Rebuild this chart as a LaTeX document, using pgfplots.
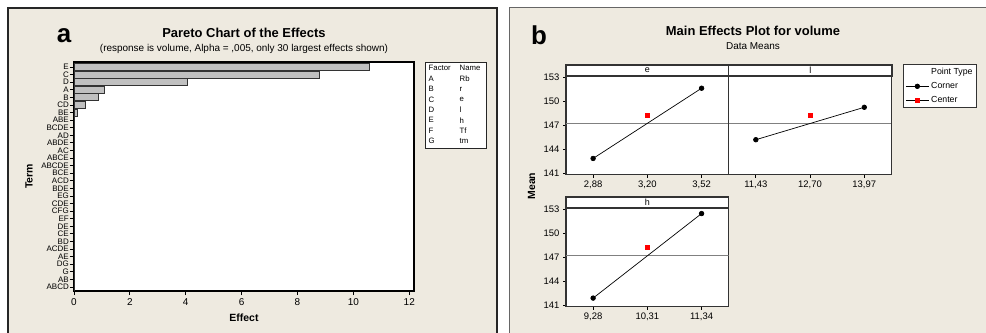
\documentclass[border=0pt]{standalone}
\usepackage{pgfplots}
\pgfplotsset{compat=1.18}
\usepackage{fontspec}
\setmainfont{Liberation Sans}
\definecolor{bg}{RGB}{238,234,224}
\definecolor{barc}{RGB}{192,192,192}
\newcommand{\fs}[1]{\fontsize{#1}{#1}\selectfont}
\begin{document}
\begin{tikzpicture}
\begin{scope}[x=1bp,y=-1bp]
\fill[white] (0,0) rectangle (986,333);
% panel a background
\fill[bg] (8,8) rectangle (497,333);
\draw[line width=1.5bp, black!85] (8,340) -- (8,8) -- (497,8) -- (497,340);
% panel b background
\fill[bg] (509.5,7.5) rectangle (986,333);
\draw[line width=1.5bp, black!60] (509.5,340) -- (509.5,7.5) -- (990,7.5);
% titles panel a
\node[font=\bfseries\fs{26}] at (64,36) {a};
\node[font=\bfseries\fs{13}] at (244,33) {Pareto Chart of the Effects};
\node[font=\fs{10}] at (244,49) {(response is volume, Alpha = ,005, only 30 largest effects shown)};
% titles panel b
\node[font=\bfseries\fs{26}] at (539,35) {b};
\node[font=\bfseries\fs{13}] at (753,31) {Main Effects Plot for volume};
\node[font=\fs{10}] at (753,46) {Data Means};
\node[font=\bfseries\fs{10.5}, rotate=90] at (531.7,186) {Mean};
% strips
\draw[fill=white, draw=black!80, line width=1.2bp] (566,65) rectangle (728.7,76.5);
\draw[fill=white, draw=black!80, line width=1.2bp] (728.7,65) rectangle (892,76.5);
\draw[fill=white, draw=black!80, line width=1.2bp] (566,197) rectangle (728.7,208.5);
\node[font=\fs{9}] at (647.3,70.5) {e};
\node[font=\fs{9}] at (810.3,70.5) {l};
\node[font=\fs{9}] at (647.3,202.5) {h};
\end{scope}

\begin{axis}[at={(74bp,-291bp)}, anchor=south west, scale only axis,
  width=340bp, height=229bp,
  xbar, bar width=7bp,
  xmin=0, xmax=12.17, ymin=-0.66, ymax=29.53, y dir=reverse,
  ytick={0,...,29},
  yticklabels={E,C,D,A,B,CD,BE,ABE,BCDE,AD,ABDE,AC,ABCE,ABCDE,BCE,ACD,BDE,EG,CDE,CFG,EF,DE,CE,BD,ACDE,AE,DG,G,AB,ABCD},
  xtick={0,2,...,12},
  tick align=outside, major tick length=4bp,
  xtick pos=bottom, ytick pos=left,
  tick style={black, line width=0.8bp},
  axis background/.style={fill=white},
  axis line style={line width=1.2bp, black},
  yticklabel style={font=\fs{8}, inner sep=1bp},
  xticklabel style={font=\fs{10}},
  /pgf/number format/assume math mode=true,
  xlabel={Effect}, ylabel={Term},
  xlabel style={font=\bfseries\fs{10.5}, yshift=-1bp},
  ylabel style={font=\bfseries\fs{10.5}, yshift=4bp},
]
\addplot[fill=barc, draw=black!80, line width=0.8bp] coordinates {
(10.56,0) (8.78,1) (4.07,2) (1.09,3) (0.86,4) (0.41,5) (0.12,6)
(0.02,7) (0.02,8) (0.015,9) (0.015,10) (0.012,11) (0.012,12) (0.01,13)
(0.01,14) (0.009,15) (0.009,16) (0.008,17) (0.008,18) (0.007,19) (0.007,20)
(0.006,21) (0.006,22) (0.005,23) (0.005,24) (0.004,25) (0.004,26) (0.003,27)
(0.003,28) (0.002,29)};
\end{axis}

% factor legend panel a
\begin{scope}[x=1bp,y=-1bp]
\draw[fill=white, draw=black!85, line width=1bp] (425.5,62) rectangle (486.7,148);
\begin{scope}[font=\fs{7.8}]
\node[anchor=west, inner sep=0] at (428.5,68.3) {Factor};
\node[anchor=west, inner sep=0] at (459.5,68.3) {Name};
\foreach \f/\n [count=\i] in {A/Rb,B/r,C/e,D/l,E/h,F/Tf,G/tm}{
  \node[anchor=west, inner sep=0] at (428.5,68.3+10.4*\i) {\f};
  \node[anchor=west, inner sep=0] at (459.5,68.3+10.4*\i) {\n};
}
\end{scope}
\end{scope}

\pgfplotsset{mep/.style={scale only axis, width=162.7bp, height=98.7bp,
  ymin=140.88, ymax=153.15, ytick={141,144,...,153},
  tick align=outside, major tick length=3bp,
  xtick pos=bottom, ytick pos=left,
  tick style={black, line width=0.8bp},
  axis background/.style={fill=white},
  axis line style={line width=1.2bp, black!80},
  ticklabel style={font=\fs{9.5}},
  /pgf/number format/assume math mode=true,
}}

\begin{axis}[mep, at={(566bp,-174.7bp)}, anchor=south west,
  xmin=2.72, xmax=3.68, xtick={2.88,3.20,3.52}, xticklabels={{2,88},{3,20},{3,52}},
  legend style={at={(2.0713,1.1216)}, anchor=north west, draw=black!80, fill=white,
    font=\fs{8.8}, row sep=2.2bp, inner xsep=2bp, inner ysep=2bp, line width=1bp},
  legend image code/.code={\draw[mark repeat=2,mark phase=2,#1] plot coordinates {(0bp,0bp) (11.5bp,0bp) (23bp,0bp)};},
  legend cell align=left]
\addplot[gray, line width=0.9bp, forget plot] coordinates {(2.72,147.3) (3.68,147.3)};
\addlegendimage{empty legend}
\addlegendentry{Point Type}
\addplot[black, line width=0.7bp, mark=*, mark size=2.3bp] coordinates {(2.88,142.9) (3.52,151.63)};
\addlegendentry{Corner}
\addplot[black, line width=0.7bp, mark=square*, mark size=2bp, mark options={red, draw=red}] coordinates {(3.20,148.22)};
\addlegendentry{Center}
\end{axis}

\begin{axis}[mep, at={(728.7bp,-174.7bp)}, anchor=south west,
  xmin=10.795, xmax=14.605, xtick={11.43,12.70,13.97}, xticklabels={{11,43},{12,70},{13,97}},
  ytick=\empty]
\addplot[gray, line width=0.9bp] coordinates {(10.795,147.3) (14.605,147.3)};
\addplot[black, line width=0.7bp, mark=*, mark size=2.3bp] coordinates {(11.43,145.23) (13.97,149.26)};
\addplot[only marks, mark=square*, mark size=2bp, red] coordinates {(12.70,148.22)};
\end{axis}

\begin{axis}[mep, at={(566bp,-306.7bp)}, anchor=south west,
  xmin=8.765, xmax=11.855, xtick={9.28,10.31,11.34}, xticklabels={{9,28},{10,31},{11,34}}]
\addplot[gray, line width=0.9bp] coordinates {(8.765,147.3) (11.855,147.3)};
\addplot[black, line width=0.7bp, mark=*, mark size=2.3bp] coordinates {(9.28,141.95) (11.34,152.46)};
\addplot[only marks, mark=square*, mark size=2bp, red] coordinates {(10.31,148.23)};
\end{axis}
\pgfresetboundingbox
\path[use as bounding box] (0,0) rectangle (986bp,-333bp);
\end{tikzpicture}
\end{document}
